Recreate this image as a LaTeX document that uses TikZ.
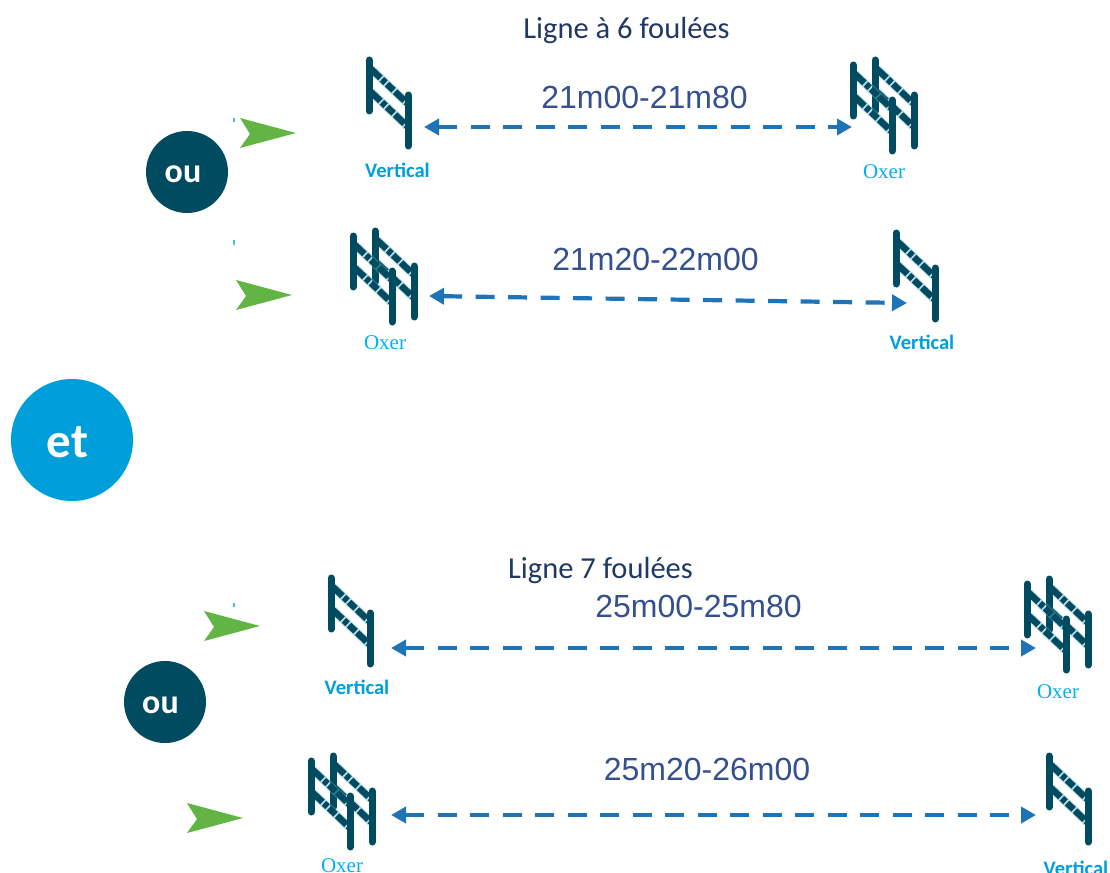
\documentclass[tikz,border=0pt]{standalone}
\usepackage{fontspec}
\setmainfont{Carlito}
\newfontfamily\arialf{Liberation Sans}
\newfontfamily\timesf{Liberation Serif}
\definecolor{deep}{HTML}{004B5F}
\definecolor{sky}{HTML}{009FDB}
\definecolor{lightsky}{HTML}{00B0F0}
\definecolor{linkblue}{HTML}{1F73B7}
\definecolor{dist}{HTML}{34508F}
\definecolor{head}{HTML}{1F3864}
\definecolor{arrowgreen}{HTML}{62B545}
\usetikzlibrary{arrows.meta}
\tikzset{
  x=1pt,y=-1pt,
  post/.style={draw=deep,line width=7pt,line cap=round},
  bar/.style={draw=deep,line width=6.5pt,dash pattern=on 13pt off 2pt on 5pt off 2pt on 9pt off 2pt},
  barglow/.style={draw=deep!40!sky!60!white,line width=8.5pt,opacity=.45},
  pics/fence/.style={code={
    \draw[barglow] (2,11) -- (38,45);
    \draw[barglow] (2,34) -- (38,68);
    \draw[bar] (2,11) -- (38,45);
    \draw[bar] (2,34) -- (38,68);
    \draw[post] (0,2) -- (0,53);
    \draw[post] (39,37) -- (39,88);
  }},
  pics/oxerfence/.style={code={
    \pic at (22,-5) {fence};
    \pic at (0,0) {fence};
  }},
  disc/.style={circle,inner sep=0pt},
  disctext/.style={text=white,inner sep=0pt},
  dim/.style={draw=linkblue,line width=4.2pt,dash pattern=on 19pt off 13.5pt,
    {Triangle[length=15pt,width=16pt]}-{Triangle[length=15pt,width=16pt]},shorten <=0pt,shorten >=0pt},
  distlab/.style={text=dist,font=\arialf\fontsize{32}{34}\selectfont,inner sep=0pt},
  headlab/.style={text=head,font=\fontsize{30.5}{33}\selectfont,inner sep=0pt},
  vlab/.style={text=sky,font=\bfseries\fontsize{20.6}{22}\selectfont,inner sep=0pt},
  olab/.style={text=lightsky,font=\timesf\fontsize{21}{23}\selectfont,inner sep=0pt},
  tick/.style={draw=sky!70,line width=1.5pt},
  green/.style={fill=arrowgreen,draw=none},
  pics/pointer/.style={code={
    \fill[green] (-56,-15) -- (0,0) -- (-56,15) -- (-46,1) -- cycle;
  }},
}
\begin{document}
\begin{tikzpicture}
\useasboundingbox (0,0) rectangle (1110,872);

% headings
\node[headlab] (h1) at (626.5,30.5) {Ligne à 6 foulées};
\node[headlab] (h2) at (600.5,570.5) {Ligne 7 foulées};

% discs
\node[disc,fill=deep,minimum size=82pt] (ou1) at (187,172) {};
\node[disc,fill=sky,minimum size=122pt] (et) at (72,440) {};
\node[disc,fill=deep,minimum size=82pt] (ou2) at (165,702) {};
\node[disctext,font=\bfseries\fontsize{34}{35}\selectfont] (ou1t) at (183,174) {ou};
\node[disctext,font=\bfseries\fontsize{49}{50}\selectfont] (ett) at (67.5,442) {et};
\node[disctext,font=\bfseries\fontsize{34}{35}\selectfont] (ou2t) at (160.5,705) {ou};

% pointers and ticks
\pic at (296,133) {pointer};
\pic at (292,295) {pointer};
\pic at (260,626) {pointer};
\pic at (243,818) {pointer};
\draw[tick] (234,118) -- (234,122);
\draw[tick] (234,240) -- (234,245);
\draw[tick] (234,603) -- (234,607);

% fences
\pic at (369,58) {fence};
\pic at (853,63) {oxerfence};
\pic at (353,234) {oxerfence};
\pic at (896,231) {fence};
\pic at (331,576) {fence};
\pic at (1027,582) {oxerfence};
\pic at (311,759) {oxerfence};
\pic at (1049,754) {fence};

% fence labels
\node[vlab] (v1) at (397.5,170.5) {Vertical};
\node[olab] (o1) at (884,171.5) {Oxer};
\node[olab] (o2) at (385,342.5) {Oxer};
\node[vlab] (v2) at (922,342.5) {Vertical};
\node[vlab] (v3) at (357,687.5) {Vertical};
\node[olab] (o3) at (1058,691.5) {Oxer};
\node[olab] (o4) at (342,866) {Oxer};
\node[vlab] (v4) at (1076,868.5) {Vertical};

% distance labels
\node[distlab] (d1) at (644.5,97) {21m00-21m80};
\node[distlab] (d2) at (655.5,259) {21m20-22m00};
\node[distlab] (d3) at (698.5,606) {25m00-25m80};
\node[distlab] (d4) at (707,769) {25m20-26m00};

% connectors
\coordinate (a1) at (424,127); \coordinate (b1) at (852,127);
\coordinate (a2) at (429,296); \coordinate (b2) at (907,303);
\coordinate (a3) at (391,648); \coordinate (b3) at (1036,648);
\coordinate (a4) at (391,815); \coordinate (b4) at (1036,815);
\draw[dim] (a1) -- (b1);
\draw[dim] (a2) -- (b2);
\draw[dim] (a3) -- (b3);
\draw[dim] (a4) -- (b4);
\end{tikzpicture}
\end{document}
